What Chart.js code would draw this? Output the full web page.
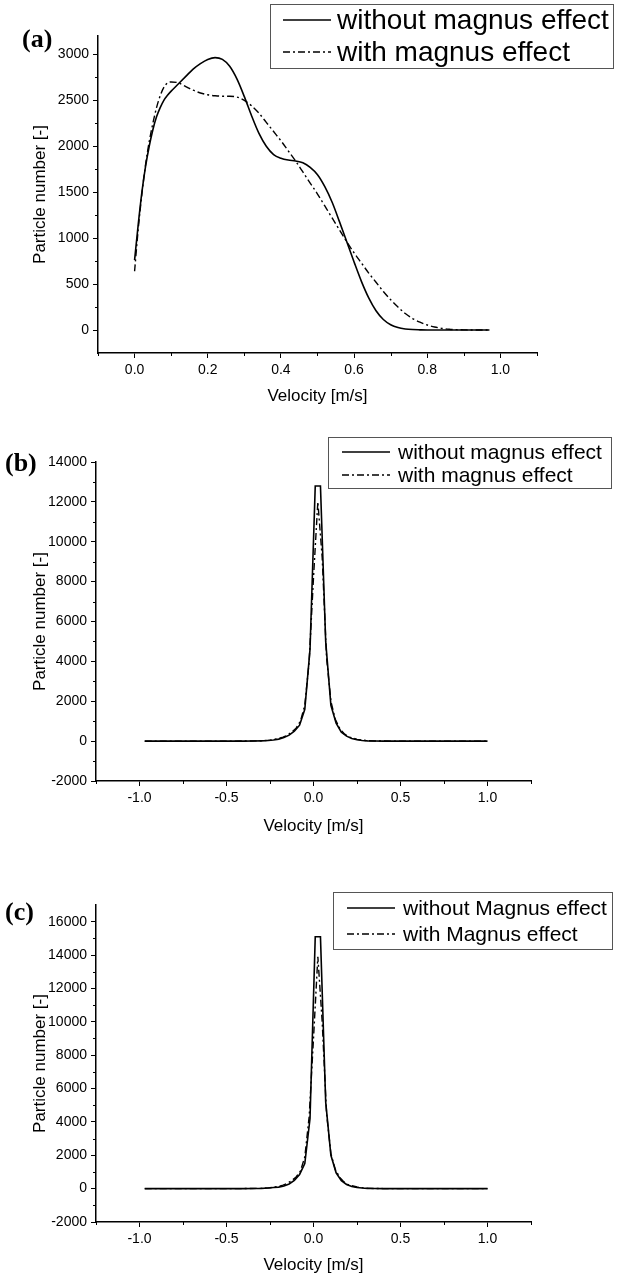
<!DOCTYPE html>
<html><head><meta charset="utf-8">
<script src="https://cdn.jsdelivr.net/npm/chart.js@4.4.1/dist/chart.umd.min.js"></script>
<style>
html,body{margin:0;padding:0;background:#fff;width:619px;height:1279px;overflow:hidden}
.wrap{position:absolute;left:0;width:619px}
canvas{display:block}
</style></head><body>
<div class="wrap" style="top:0;height:410px"><canvas id="ca"></canvas></div>
<div class="wrap" style="top:420px;height:420px"><canvas id="cb"></canvas></div>
<div class="wrap" style="top:860px;height:419px"><canvas id="cc"></canvas></div>
<script>
// ---------- Panel (a) ----------
const velA = [0,0.01,0.02,0.03,0.04,0.05,0.06,0.07,0.08,0.09,0.10,0.12,0.14,0.16,0.18,0.20,0.22,0.24,0.26,0.28,0.30,0.32,0.34,0.36,0.38,0.40,0.42,0.44,0.46,0.48,0.50,0.52,0.54,0.56,0.58,0.60,0.62,0.64,0.66,0.68,0.70,0.72,0.74,0.76,0.78,0.80,0.82,0.84,0.86,0.88,0.90,0.92,0.94,0.97];
const withoutA = [760,1150,1500,1780,2000,2180,2320,2420,2500,2555,2600,2680,2760,2840,2900,2945,2965,2945,2870,2730,2540,2330,2140,2000,1910,1870,1850,1840,1820,1770,1690,1560,1390,1180,960,740,530,350,210,115,58,27,12,5,2,0,0,0,0,0,0,0,0,0];
const withA = [640,1100,1480,1800,2050,2250,2420,2550,2640,2690,2700,2690,2650,2610,2580,2560,2550,2545,2545,2535,2500,2440,2360,2260,2160,2060,1950,1840,1720,1600,1480,1350,1220,1090,960,840,730,620,520,420,330,250,180,125,85,55,33,18,9,4,2,0,0,0];
const xTicksA = [0,0.2,0.4,0.6,0.8,1.0];
const xMinorA = [-0.1,0.1,0.3,0.5,0.7,0.9,1.1];
const yTicksA = [0,500,1000,1500,2000,2500,3000];
const yMinorA = [250,750,1250,1750,2250,2750];

// ---------- Panel (b) ----------
const velBwithout = [-0.97,-0.9,-0.8,-0.7,-0.6,-0.5,-0.4,-0.35,-0.3,-0.26,-0.23,-0.2,-0.17,-0.14,-0.11,-0.08,-0.05,-0.02,0.01,0.04,0.07,0.10,0.13,0.16,0.19,0.22,0.25,0.28,0.31,0.35,0.4,0.5,0.6,0.7,0.8,0.9,1.0];
const withoutB = [0,0,0,0,0,0,2,5,15,30,60,100,180,300,500,800,1600,4600,12800,12800,5000,1800,900,450,250,130,70,35,15,5,2,0,0,0,0,0,0];
const velBwith = [-0.97,-0.9,-0.8,-0.7,-0.6,-0.5,-0.4,-0.35,-0.3,-0.25,-0.2,-0.175,-0.15,-0.125,-0.1,-0.075,-0.05,-0.025,0,0.025,0.05,0.075,0.1,0.125,0.15,0.175,0.2,0.25,0.3,0.35,0.4,0.5,0.6,0.7,0.8,0.9,1.0];
const withB = [0,0,0,0,0,0,3,8,20,50,130,200,300,450,650,1000,1800,4000,8200,12000,9200,4200,2000,1100,650,380,220,90,30,8,3,0,0,0,0,0,0];
const xTicksBC = [-1.0,-0.5,0.0,0.5,1.0];
const xMinorBC = [-1.25,-0.75,-0.25,0.25,0.75,1.25];
const yTicksB = [-2000,0,2000,4000,6000,8000,10000,12000,14000];
const yMinorB = [-1000,1000,3000,5000,7000,9000,11000,13000];

// ---------- Panel (c) ----------
const velCwithout = velBwithout;
const withoutC = [0,0,0,0,0,0,2,5,15,40,70,90,160,280,500,850,1500,4200,15100,15100,5200,2000,950,480,250,130,70,35,15,5,2,0,0,0,0,0,0];
const velCwith = velBwith;
const withC = [0,0,0,0,0,0,3,8,20,55,140,210,320,480,700,1050,1900,4300,9000,13900,10000,4500,2100,1150,680,400,230,95,32,9,3,0,0,0,0,0,0];
const yTicksC = [-2000,0,2000,4000,6000,8000,10000,12000,14000,16000];
const yMinorC = [-1000,1000,3000,5000,7000,9000,11000,13000,15000];

const FONT = '"Liberation Sans", Arial, sans-serif';

const decor = {
  id: 'decor',
  afterDraw(chart, args, o) {
    const ctx = chart.ctx;
    ctx.save();
    ctx.strokeStyle = '#000';
    ctx.fillStyle = '#000';
    ctx.lineWidth = 1;
    // minor ticks
    const sx = chart.scales.x, sy = chart.scales.y;
    o.xMinor.forEach(v => {
      const p = Math.round(sx.getPixelForValue(v)) + 0.5;
      ctx.beginPath(); ctx.moveTo(p, sx.top); ctx.lineTo(p, sx.top + 3); ctx.stroke();
    });
    o.yMinor.forEach(v => {
      const p = Math.round(sy.getPixelForValue(v)) + 0.5;
      ctx.beginPath(); ctx.moveTo(sy.right, p); ctx.lineTo(sy.right - 3, p); ctx.stroke();
    });
    // panel label
    ctx.font = 'bold 26px "Liberation Serif", serif';
    ctx.textBaseline = 'alphabetic';
    ctx.textAlign = 'left';
    ctx.fillText(o.panel, o.panelX, o.panelY);
    // legend box
    const b = o.box;
    ctx.strokeStyle = '#555';
    ctx.lineWidth = 1;
    ctx.strokeRect(b.x + 0.5, b.y + 0.5, b.w, b.h);
    ctx.font = o.legendSize + 'px ' + FONT;
    ctx.textBaseline = 'middle';
    chart.data.datasets.forEach((ds, i) => {
      const cy = b.y + o.rows[i];
      ctx.strokeStyle = '#000';
      ctx.lineWidth = ds.borderWidth;
      ctx.setLineDash(ds.borderDash || []);
      ctx.beginPath(); ctx.moveTo(b.x + o.line[0], cy); ctx.lineTo(b.x + o.line[1], cy); ctx.stroke();
      ctx.setLineDash([]);
      ctx.fillStyle = '#000';
      ctx.fillText(ds.label, b.x + o.textX, cy + 1);
    });
    ctx.restore();
  }
};

function makeChart(id, cfg) {
  const pts = (xs, ys) => xs.map((v, i) => ({x: v, y: ys[i]}));
  return new Chart(document.getElementById(id), {
    type: 'line',
    data: {
      datasets: [
        {label: cfg.labels[0], data: pts(cfg.x1, cfg.y1), borderColor: '#000', borderWidth: 1.6, pointRadius: 0, fill: false, tension: 0, cubicInterpolationMode: cfg.smooth ? 'monotone' : 'default'},
        {label: cfg.labels[1], data: pts(cfg.x2, cfg.y2), borderColor: '#000', borderWidth: 1.4, borderDash: [7, 3, 2, 3], pointRadius: 0, fill: false, tension: 0, cubicInterpolationMode: cfg.smooth ? 'monotone' : 'default'}
      ]
    },
    options: {
      responsive: true,
      maintainAspectRatio: false,
      animation: false,
      events: [],
      layout: {padding: {top: cfg.padTop, right: cfg.padRight, left: 0, bottom: 0}},
      plugins: {
        legend: {display: false},
        tooltip: {enabled: false},
        decor: cfg.decor
      },
      scales: {
        x: {
          type: 'linear', min: cfg.xmin, max: cfg.xmax,
          afterBuildTicks: s => { s.ticks = cfg.xTicks.map(v => ({value: v})); },
          afterFit: s => { s.height = cfg.xH; },
          grid: {drawOnChartArea: false, tickLength: 5, color: '#000', tickWidth: 1},
          border: {color: '#000', width: 1.5},
          ticks: {color: '#000', padding: 4, maxRotation: 0, autoSkip: false, font: {family: FONT, size: 14}, callback: v => Number(v).toFixed(1)},
          title: {display: true, text: 'Velocity [m/s]', color: '#000', font: {family: FONT, size: 17}, padding: {top: 0, bottom: 3}}
        },
        y: {
          type: 'linear', min: cfg.ymin, max: cfg.ymax,
          afterBuildTicks: s => { s.ticks = cfg.yTicks.map(v => ({value: v})); },
          afterFit: s => { s.width = cfg.yW; },
          grid: {drawOnChartArea: false, tickLength: 5, color: '#000', tickWidth: 1},
          border: {color: '#000', width: 1.5},
          ticks: {color: '#000', padding: 4, autoSkip: false, font: {family: FONT, size: 14}, callback: v => String(v)},
          title: {display: true, text: 'Particle number [-]', color: '#000', font: {family: FONT, size: 17}, padding: {top: 30, bottom: 0}}
        }
      }
    },
    plugins: [decor]
  });
}

makeChart('ca', {
  labels: ['without magnus effect', 'with magnus effect'],
  x1: velA, y1: withoutA, x2: velA, y2: withA, smooth: true,
  xmin: -0.1, xmax: 1.1, ymin: -250, ymax: 3200,
  xTicks: xTicksA, yTicks: yTicksA,
  padTop: 36, padRight: 82, xH: 57, yW: 98,
  decor: {xMinor: xMinorA, yMinor: yMinorA, panel: '(a)', panelX: 22, panelY: 47,
          box: {x: 270, y: 4, w: 343, h: 64}, rows: [16, 48], line: [13, 61], textX: 67, legendSize: 28}
});
makeChart('cb', {
  labels: ['without magnus effect', 'with magnus effect'],
  x1: velBwithout, y1: withoutB, x2: velBwith, y2: withB, smooth: false,
  xmin: -1.25, xmax: 1.25, ymin: -2000, ymax: 14000,
  xTicks: xTicksBC, yTicks: yTicksB,
  padTop: 42, padRight: 88, xH: 59, yW: 96,
  decor: {xMinor: xMinorBC, yMinor: yMinorB, panel: '(b)', panelX: 5, panelY: 51,
          box: {x: 328, y: 17, w: 283, h: 51}, rows: [15, 38], line: [14, 62], textX: 70, legendSize: 21}
});
makeChart('cc', {
  labels: ['without Magnus effect', 'with Magnus effect'],
  x1: velCwithout, y1: withoutC, x2: velCwith, y2: withC, smooth: false,
  xmin: -1.25, xmax: 1.25, ymin: -2000, ymax: 17000,
  xTicks: xTicksBC, yTicks: yTicksC,
  padTop: 45, padRight: 88, xH: 57, yW: 96,
  decor: {xMinor: xMinorBC, yMinor: yMinorC, panel: '(c)', panelX: 5, panelY: 60,
          box: {x: 333, y: 32, w: 279, h: 57}, rows: [16, 42], line: [14, 62], textX: 70, legendSize: 21}
});
</script>
</body></html>
